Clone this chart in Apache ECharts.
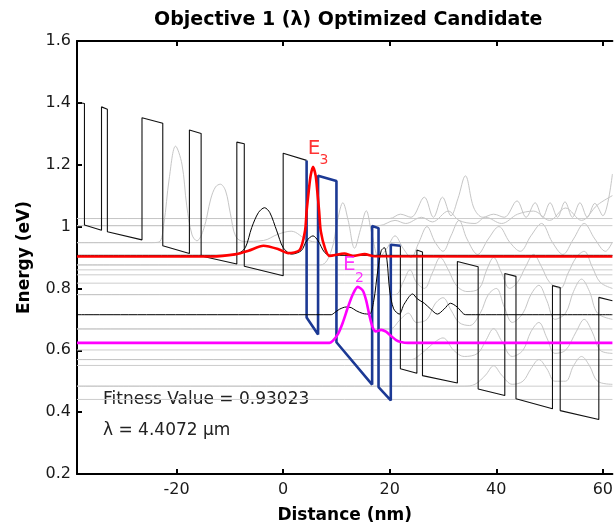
<!DOCTYPE html>
<html>
<head>
<meta charset="utf-8">
<script src="https://cdn.jsdelivr.net/npm/echarts@6/dist/echarts.min.js"></script>
<style>
  html, body { margin: 0; padding: 0; background: #fff; }
  #chart { width: 616px; height: 529px; }
</style>
</head>
<body>
<div id="chart"></div>
<script>
// axis range (nm / eV)
const xMin = -38.7, xMax = 61.8;
const yMin = 0.2, yMax = 1.6;
const xTicks = [-20, 0, 20, 40, 60];
const yTicks = [0.2, 0.4, 0.6, 0.8, 1.0, 1.2, 1.4, 1.6];

// conduction band profile [nm, eV]
const bandLeft = [
  [-38.7, 1.402], [-37.3, 1.398], [-37.3, 1.005], [-34.1, 0.988], [-34.1, 1.387], [-33.0, 1.379],
  [-33.0, 0.983], [-26.5, 0.957], [-26.5, 1.352], [-22.6, 1.334], [-22.6, 0.938], [-17.6, 0.913],
  [-17.6, 1.312], [-15.4, 1.301], [-15.4, 0.905], [-8.7, 0.879], [-8.7, 1.273], [-7.3, 1.268],
  [-7.3, 0.872], [0.0, 0.841], [0.0, 1.237], [4.4, 1.214]
];
const bandActive = [
  [4.4, 1.214], [4.4, 0.706], [6.55, 0.651], [6.55, 1.164], [10.0, 1.147], [10.0, 0.626],
  [16.7, 0.489], [16.7, 1.002], [17.9, 0.995], [17.9, 0.481], [20.2, 0.438], [20.2, 0.941], [22.0, 0.938]
];
const bandRight = [
  [22.0, 0.938], [22.0, 0.540], [25.1, 0.526], [25.1, 0.924], [26.15, 0.918], [26.15, 0.518],
  [32.7, 0.494], [32.7, 0.887], [36.6, 0.870], [36.6, 0.475], [41.6, 0.454], [41.6, 0.848],
  [43.7, 0.839], [43.7, 0.443], [50.55, 0.411], [50.55, 0.809], [52.0, 0.803], [52.0, 0.405],
  [59.25, 0.376], [59.25, 0.771], [61.8, 0.760]
];

// other subband energies (eV)
const grayLevels = [1.026, 1.003, 0.948, 0.876, 0.860, 0.844, 0.817, 0.780, 0.669, 0.601, 0.570, 0.551, 0.484, 0.441];

// wavefunctions |psi|^2 + E  [nm, eV]
const waveE3 = [
  [-38.7, 0.903], [-13.4, 0.903], [-8.75, 0.911], [-6.5, 0.922], [-3.7, 0.938], [-0.9, 0.927],
  [0.95, 0.914], [3.1, 0.924], [4.1, 0.986], [4.4, 1.05], [4.8, 1.115], [5.15, 1.164], [5.6, 1.193],
  [6.1, 1.164], [6.4, 1.115], [6.75, 1.05], [7.05, 0.986], [7.9, 0.927], [8.7, 0.905], [11.5, 0.913],
  [13.1, 0.905], [15.3, 0.911], [17.1, 0.904], [61.8, 0.903]
];
const waveE2 = [
  [-38.7, 0.624], [8.7, 0.624], [9.35, 0.631], [10.3, 0.653], [11.2, 0.69], [12.15, 0.739],
  [13.1, 0.782], [14.0, 0.805], [14.95, 0.793], [15.6, 0.76], [16.2, 0.712], [16.8, 0.674],
  [17.4, 0.661], [18.4, 0.666], [19.3, 0.66], [20.2, 0.647], [21.2, 0.633], [22.1, 0.627],
  [23.4, 0.624], [61.8, 0.624]
];
const waveUpper = [
  [-38.7, 0.907], [-10.0, 0.907], [-8.4, 0.913], [-7.1, 0.932], [-5.9, 0.997], [-4.65, 1.045],
  [-3.5, 1.061], [-2.5, 1.045], [-1.2, 0.986], [0.0, 0.932], [1.6, 0.911], [3.4, 0.922],
  [4.4, 0.954], [5.6, 0.97], [6.55, 0.954], [7.8, 0.916], [9.0, 0.907], [61.8, 0.907]
];
const waveLower = [
  [-38.7, 0.715], [9.03, 0.715], [9.67, 0.722], [10.6, 0.733], [11.83, 0.74], [12.77, 0.738],
  [13.7, 0.728], [14.95, 0.719], [16.2, 0.717], [17.0, 0.76], [17.75, 0.857], [18.4, 0.922],
  [19.0, 0.932], [19.5, 0.889], [20.0, 0.792], [20.74, 0.734], [21.8, 0.717], [22.7, 0.749],
  [24.3, 0.782], [25.2, 0.766], [26.5, 0.752], [27.7, 0.733], [28.95, 0.717], [30.2, 0.733],
  [31.4, 0.752], [32.65, 0.74], [33.9, 0.717], [34.5, 0.715], [61.8, 0.715]
];
const grayWaves = [
  [[-38.7, 0.948], [-25.2, 0.948], [-23.3, 0.95], [-22.4, 1.009], [-21.4, 1.154], [-20.2, 1.26],
   [-19.0, 1.202], [-18.1, 1.067], [-17.1, 0.973], [-16.2, 0.954], [-14.9, 0.993], [-13.6, 1.089],
   [-12.7, 1.128], [-11.8, 1.137], [-10.8, 1.115], [-9.9, 1.041], [-8.9, 0.968], [-7.4, 0.952],
   [-3.7, 0.955], [-1.0, 0.975], [1.5, 0.985], [4.7, 0.955], [8.0, 0.948], [61.8, 0.948]],
  [[-38.7, 1.026], [20, 1.026], [22, 1.04], [24, 1.03], [26.5, 1.095], [28.2, 1.03], [29.9, 1.095],
   [31.5, 1.035], [32.8, 1.09], [34.2, 1.164], [35.8, 1.06], [37.5, 1.03], [39.5, 1.04], [41.5, 1.03],
   [43.9, 1.083], [45.6, 1.03], [47.3, 1.077], [48.7, 1.03], [50.1, 1.077], [51.5, 1.03], [52.9, 1.08],
   [54.3, 1.03], [55.7, 1.077], [57.1, 1.03], [58.5, 1.075], [60.0, 1.035], [61.8, 1.17]],
  [[-38.7, 1.003], [18, 1.003], [21, 1.02], [23, 1.01], [26, 1.03], [28, 1.015], [31, 1.05], [33, 1.02],
   [36, 1.01], [38, 1.03], [41, 1.01], [44, 1.04], [47, 1.05], [50, 1.02], [53, 1.06], [56, 1.02],
   [59, 1.07], [61.8, 1.1]],
  [[-38.7, 0.876], [7, 0.876], [9, 0.92], [10.2, 1.02], [11.2, 1.077], [12.2, 1.02], [13.4, 0.93],
   [14.5, 0.99], [15.6, 1.051], [16.6, 0.98], [18, 0.9], [19.5, 0.93], [21, 0.97], [22.5, 0.93],
   [24, 0.9], [25.5, 0.95], [27, 1.0], [28.5, 0.95], [30, 0.92], [31.5, 0.97], [33, 1.02], [34.5, 0.96],
   [36.5, 0.91], [38.5, 0.96], [40.5, 1.0], [42.5, 0.95], [44.5, 0.92], [46.5, 0.97], [48.5, 1.01],
   [50.5, 0.95], [52.5, 0.91], [54.5, 0.96], [56.5, 1.01], [58.5, 0.96], [60.5, 0.92], [61.8, 0.95]],
  [[-38.7, 0.78], [21, 0.78], [22.5, 0.82], [23.8, 0.86], [25, 0.82], [26.5, 0.8], [28, 0.85],
   [29.5, 0.9], [31, 0.86], [32.5, 0.81], [34.5, 0.79], [36.8, 0.8], [38.2, 0.86], [39.5, 0.9],
   [41, 0.85], [42.5, 0.8], [44, 0.82], [45.5, 0.87], [47, 0.91], [48.5, 0.87], [50, 0.82], [52, 0.8],
   [53.5, 0.85], [55, 0.9], [56.5, 0.92], [58, 0.87], [59.5, 0.82], [61.8, 0.8]],
  [[-38.7, 0.669], [20, 0.669], [22, 0.7], [23.5, 0.72], [25, 0.69], [27, 0.7], [28.5, 0.75], [30, 0.77],
   [31.5, 0.73], [33, 0.69], [35, 0.68], [37, 0.72], [38.5, 0.78], [40, 0.8], [41.5, 0.74], [43, 0.69],
   [45, 0.72], [46.5, 0.78], [48, 0.81], [49.5, 0.76], [51, 0.7], [53, 0.72], [54.5, 0.79], [56, 0.83],
   [57.5, 0.79], [59, 0.72], [61.8, 0.7]],
  [[-38.7, 0.57], [24, 0.57], [26, 0.59], [28, 0.62], [30, 0.64], [32, 0.6], [34, 0.58], [36.5, 0.59],
   [38, 0.63], [39.5, 0.67], [41, 0.63], [43, 0.58], [45, 0.6], [46.5, 0.66], [48, 0.69], [49.5, 0.64],
   [51, 0.59], [53, 0.6], [55, 0.66], [56.5, 0.7], [58, 0.66], [59.5, 0.6], [61.8, 0.59]],
  [[-38.7, 0.484], [34, 0.484], [36, 0.49], [38, 0.52], [39.5, 0.55], [41, 0.52], [43, 0.49], [45, 0.5],
   [46.5, 0.54], [48, 0.57], [49.5, 0.54], [51, 0.5], [53, 0.5], [54.5, 0.55], [56, 0.58], [57.5, 0.55],
   [59, 0.5], [61.8, 0.49]]
];

// state labels [nm, eV]
const stateLabels = [
  { value: [5.8, 1.25], name: 'E', color: '#ff0000', size: 20 },
  { value: [7.67, 1.215], name: '3', color: '#ff0000', size: 14 },
  { value: [12.43, 0.876], name: 'E', color: '#ff00ff', size: 20 },
  { value: [14.3, 0.833], name: '2', color: '#ff00ff', size: 14 }
];

const fitnessText = 'Fitness Value = 0.93023';
const lambdaText = '\u03bb = 4.4072 \u00b5m';

const FONT = '"DejaVu Sans", "Liberation Sans", Arial, sans-serif';

const chart = echarts.init(document.getElementById('chart'), null, { renderer: 'canvas' });

const line = (data, color, width, z, smooth) => ({
  type: 'line',
  data,
  showSymbol: false,
  symbol: 'none',
  silent: true,
  animation: false,
  smooth: smooth || false,
  z,
  lineStyle: { color, width }
});

const series = [];
grayLevels.forEach((lvl) => series.push(line([[xMin, lvl], [xMax, lvl]], '#cdcdcd', 1, 1)));
grayWaves.forEach((w) => series.push(line(w, '#c6c6c6', 1, 2, 0.35)));
series.push(line(bandLeft, '#111111', 1.1, 3));
series.push(line(bandRight, '#111111', 1.1, 3));
series.push(line(bandActive, '#1c3994', 2.6, 4));
series.push(line(waveUpper, '#000000', 1, 5, 0.3));
series.push(line(waveLower, '#000000', 1, 5, 0.3));
series.push(line(waveE2, '#ff00ff', 2.6, 6, 0.25));
series.push(line(waveE3, '#ff0000', 2.6, 7, 0.25));
series.push({
  type: 'scatter',
  symbolSize: 0,
  silent: true,
  animation: false,
  z: 8,
  data: stateLabels.map((d) => ({
    value: d.value,
    name: d.name,
    label: { color: d.color, fontSize: d.size }
  })),
  label: {
    show: true,
    position: 'inside',
    formatter: '{b}',
    fontFamily: FONT
  }
});

const tickFmt = (v) => (Math.abs(v - Math.round(v)) < 1e-9 ? String(Math.round(v)) : v.toFixed(1));

chart.setOption({
  animation: false,
  backgroundColor: '#fff',
  title: {
    text: 'Objective 1 (\u03bb) Optimized Candidate',
    left: 149,
    top: 6,
    textStyle: { fontFamily: FONT, fontSize: 19, fontWeight: 'bold', color: '#000' }
  },
  grid: { left: 77, right: 0, top: 41, bottom: 55, containLabel: false },
  xAxis: [
    {
      type: 'value',
      min: xMin,
      max: xMax,
      position: 'bottom',
      name: 'Distance (nm)',
      nameLocation: 'middle',
      nameGap: 33,
      nameTextStyle: { fontFamily: FONT, fontSize: 17, fontWeight: 'bold', color: '#000' },
      axisLine: { show: true, onZero: false, lineStyle: { color: '#000', width: 2 } },
      axisTick: { show: true, inside: true, length: 5, customValues: xTicks, lineStyle: { color: '#000', width: 2 } },
      axisLabel: { customValues: xTicks, formatter: tickFmt, fontFamily: FONT, fontSize: 16, color: '#1a1a1a', margin: 8 },
      splitLine: { show: false }
    },
    {
      type: 'value',
      min: xMin,
      max: xMax,
      position: 'top',
      axisLine: { show: true, onZero: false, lineStyle: { color: '#000', width: 2 } },
      axisTick: { show: true, inside: true, length: 5, customValues: xTicks, lineStyle: { color: '#000', width: 2 } },
      axisLabel: { show: false },
      splitLine: { show: false }
    }
  ],
  yAxis: {
    type: 'value',
    min: yMin,
    max: yMax,
    name: 'Energy (eV)',
    nameLocation: 'middle',
    nameGap: 44,
    nameRotate: 90,
    nameTextStyle: { fontFamily: FONT, fontSize: 17, fontWeight: 'bold', color: '#000' },
    axisLine: { show: true, onZero: false, lineStyle: { color: '#000', width: 2 } },
    axisTick: { show: true, inside: true, length: 5, customValues: yTicks, lineStyle: { color: '#000', width: 2 } },
    axisLabel: { customValues: yTicks, formatter: tickFmt, fontFamily: FONT, fontSize: 16, color: '#1a1a1a', margin: 6 },
    splitLine: { show: false }
  },
  graphic: [
    {
      type: 'text',
      left: 103,
      top: 391,
      silent: true,
      style: { text: fitnessText, font: '17px ' + FONT, fill: '#222' }
    },
    {
      type: 'text',
      left: 103,
      top: 422,
      silent: true,
      style: { text: lambdaText, font: '17px ' + FONT, fill: '#222' }
    }
  ],
  series
});
</script>
</body>
</html>
